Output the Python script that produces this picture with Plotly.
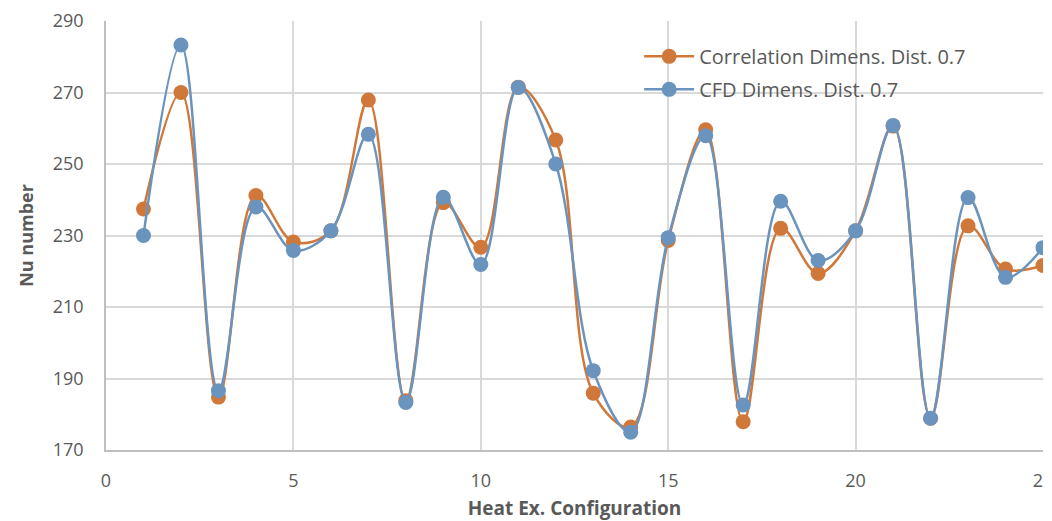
import plotly.graph_objects as go

config = list(range(1, 26))
corr_vals = [237.4, 270.0, 184.8, 241.2, 228.2, 231.3, 267.9, 183.8, 239.2, 226.7,
             271.5, 256.7, 185.9, 176.4, 228.6, 259.6, 177.9, 232.0, 219.4, 231.3,
             260.6, 178.9, 232.7, 220.6, 221.6]
cfd_vals = [230.0, 283.3, 186.6, 238.0, 225.8, 231.3, 258.3, 183.3, 240.7, 221.9,
            271.4, 250.0, 192.2, 175.0, 229.4, 257.9, 182.6, 239.6, 223.0, 231.3,
            260.8, 178.9, 240.6, 218.3, 226.6]
names = ["Correlation Dimens. Dist. 0.7", "CFD Dimens. Dist. 0.7"]
x_ticks = [0, 5, 10, 15, 20, 25]
y_ticks = [170, 190, 210, 230, 250, 270, 290]

orange = "#D0783A"
blue = "#6A93BE"
font_family = "Open Sans, Lato, sans-serif"
gray = "#595959"

fig = go.Figure()
fig.add_trace(go.Scatter(x=config, y=corr_vals, name=names[0], mode="lines+markers",
                         line=dict(color=orange, width=2.5, shape="spline", smoothing=1.0),
                         marker=dict(color=orange, size=15), legendgroup="a"))
fig.add_trace(go.Scatter(x=config, y=cfd_vals, name=names[1], mode="lines+markers",
                         line=dict(color=blue, width=2.5, shape="spline", smoothing=1.0),
                         marker=dict(color=blue, size=15), legendgroup="b"))

fig.update_layout(
    width=1044, height=513,
    margin=dict(l=98, r=9, t=13, b=71),
    paper_bgcolor="white", plot_bgcolor="white",
    font=dict(family=font_family, color=gray, size=18),
    legend=dict(x=0.569, y=0.963, xanchor="left", yanchor="top",
                bgcolor="rgba(255,255,255,0)", font=dict(size=20, color=gray),
                itemwidth=50, tracegroupgap=4, traceorder="grouped"),
    xaxis=dict(range=[0, 25], tickvals=x_ticks, showgrid=True, gridcolor="#D9D9D9", gridwidth=1.5,
               zeroline=False, showline=True, linecolor="#BFBFBF", linewidth=1.5,
               ticks="", ticklabelstandoff=14, automargin=False, ticklabeloverflow="allow",
               title=dict(text="<b>Heat Ex. Configuration</b>", standoff=11,
                          font=dict(size=19, color=gray))),
    yaxis=dict(range=[170, 290], tickvals=y_ticks, showgrid=True, gridcolor="#D9D9D9", gridwidth=1.5,
               zeroline=False, showline=True, linecolor="#BFBFBF", linewidth=1.5,
               ticks="", ticklabelstandoff=17, automargin=False,
               title=dict(text="<b>Nu number</b>", standoff=14,
                          font=dict(size=18, color=gray))),
)
fig.write_html("out.html")
